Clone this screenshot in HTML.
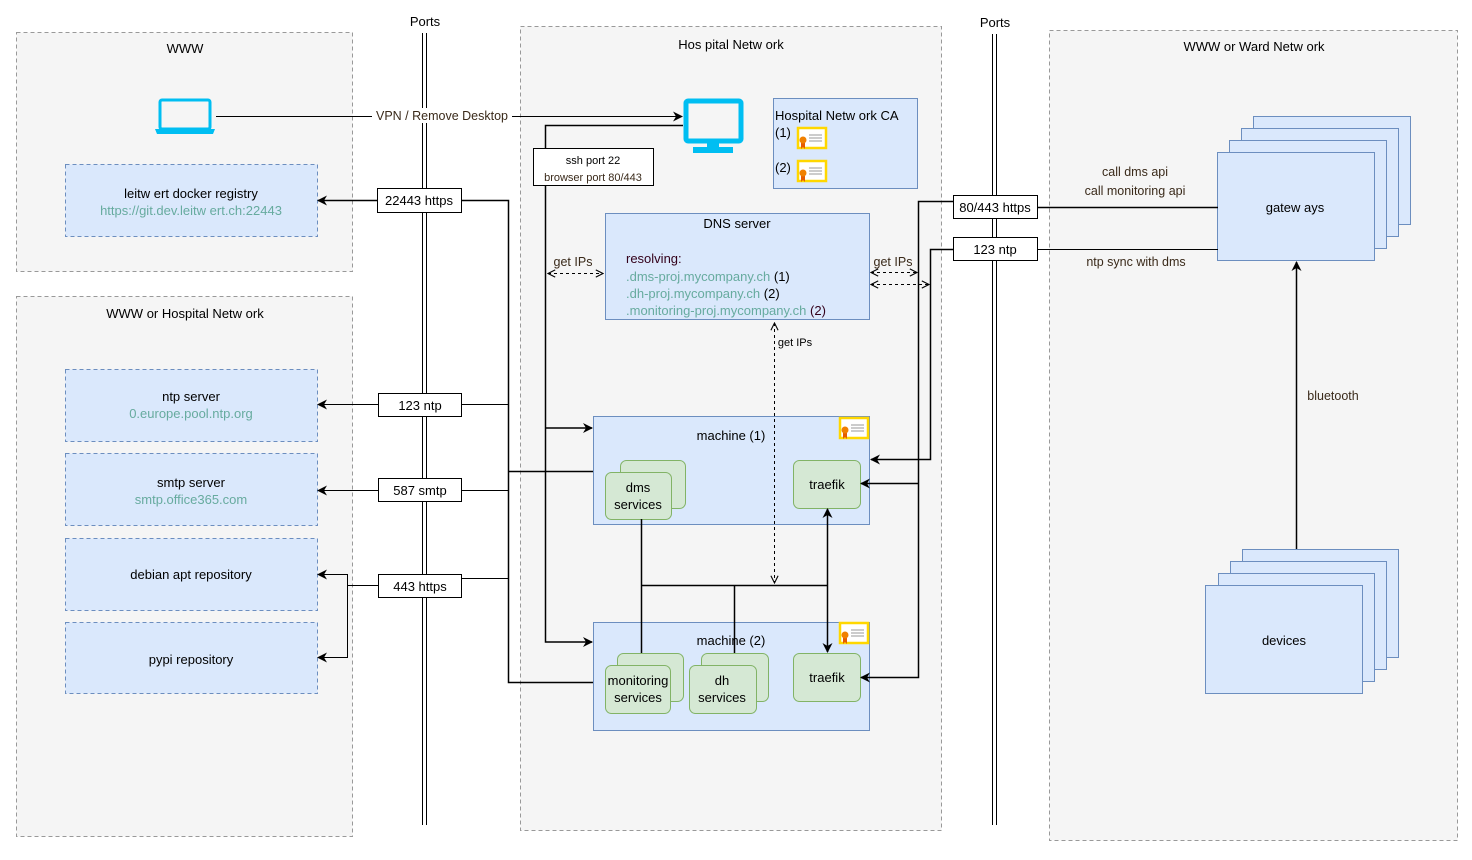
<!DOCTYPE html>
<html><head><meta charset="utf-8"><style>
html,body{margin:0;padding:0;background:#fff;}
svg{display:block;font-family:"Liberation Sans",sans-serif;}
</style></head><body>
<svg width="1472" height="860" viewBox="0 0 1472 860" xmlns="http://www.w3.org/2000/svg">
<defs>
<marker id="a" viewBox="0 0 10 10" refX="9" refY="5" markerWidth="10" markerHeight="10" markerUnits="userSpaceOnUse" orient="auto-start-reverse"><path d="M0,0 L10,5 L0,10 L3,5 Z" fill="#000"/></marker>
<marker id="o" viewBox="0 0 10 10" refX="9" refY="5" markerWidth="9" markerHeight="9" markerUnits="userSpaceOnUse" orient="auto-start-reverse"><path d="M1,1 L9,5 L1,9" fill="none" stroke="#000" stroke-width="1.2"/></marker>
<g id="cert"><rect x="1" y="1" width="28" height="20" fill="#fff" stroke="#FFD700" stroke-width="2.5"/><line x1="12" y1="8" x2="25" y2="8" stroke="#999"/><line x1="12" y1="11" x2="25" y2="11" stroke="#999"/><line x1="12" y1="14" x2="25" y2="14" stroke="#999"/><path d="M4,14 L4,22 L6,20 L8,22 L8,14Z" fill="#e65c00"/><circle cx="6" cy="13" r="3.5" fill="#f08000"/></g>
</defs>
<g fill="#f5f5f5" stroke="#999" stroke-dasharray="4 3">
<rect x="16.5" y="32.5" width="336" height="239"/>
<rect x="16.5" y="296.5" width="336" height="540"/>
<rect x="520.5" y="26.5" width="421" height="804"/>
<rect x="1049.5" y="30.5" width="408" height="810"/>
</g>
<g font-size="13" text-anchor="middle" fill="#000">
<text x="185" y="53">WWW</text>
<text x="185" y="318">WWW or Hospital Netw ork</text>
<text x="731" y="49">Hos pital Netw ork</text>
<text x="1254" y="51">WWW or Ward Netw ork</text>
<text x="425" y="26">Ports</text>
<text x="995" y="27">Ports</text>
</g>
<g stroke="#000" stroke-width="1">
<line x1="422.5" y1="33" x2="422.5" y2="825"/><line x1="426.5" y1="33" x2="426.5" y2="825"/>
<line x1="992.5" y1="34" x2="992.5" y2="825"/><line x1="996.5" y1="34" x2="996.5" y2="825"/>
</g>
<g fill="#dae8fc" stroke="#6c8ebf" stroke-dasharray="4 3">
<rect x="65.5" y="164.5" width="252" height="72"/>
<rect x="65.5" y="369.5" width="252" height="72"/>
<rect x="65.5" y="453.5" width="252" height="72"/>
<rect x="65.5" y="538.5" width="252" height="72"/>
<rect x="65.5" y="622.5" width="252" height="71"/>
</g>
<g font-size="13" text-anchor="middle">
<text x="191" y="198">leitw ert docker registry</text>
<text x="191" y="215" fill="#67AB9F">https://git.dev.leitw ert.ch:22443</text>
<text x="191" y="401">ntp server</text>
<text x="191" y="418" fill="#67AB9F">0.europe.pool.ntp.org</text>
<text x="191" y="487">smtp server</text>
<text x="191" y="504" fill="#67AB9F">smtp.office365.com</text>
<text x="191" y="579">debian apt repository</text>
<text x="191" y="664">pypi repository</text>
</g>
<!-- laptop -->
<rect x="160" y="100" width="50" height="29" rx="2" fill="none" stroke="#00BEF2" stroke-width="3"/>
<path d="M155,129 L215,129 L213,134 L157,134 Z" fill="#00BEF2"/>
<!-- monitor -->
<rect x="686" y="101" width="55" height="40" rx="2" fill="none" stroke="#00BEF2" stroke-width="5"/>
<rect x="707" y="141" width="12" height="6" fill="#00BEF2"/><rect x="693" y="147" width="40" height="6" fill="#00BEF2"/>
<!-- CA -->
<rect x="773.5" y="98.5" width="144" height="90" fill="#dae8fc" stroke="#6c8ebf"/>
<text x="775" y="120" font-size="13">Hospital Netw ork CA</text>
<text x="775" y="137" font-size="13">(1)</text>
<text x="775" y="172" font-size="13">(2)</text>
<use href="#cert" x="797" y="127"/>
<use href="#cert" x="797" y="160"/>
<!-- DNS -->
<rect x="605.5" y="213.5" width="264" height="106" fill="#dae8fc" stroke="#6c8ebf"/>
<g font-size="13">
<text x="737" y="228" text-anchor="middle">DNS server</text>
<text x="626" y="263" fill="#33001a">resolving:</text>
<text x="626" y="281"><tspan fill="#67AB9F">.dms-proj.mycompany.ch</tspan> (1)</text>
<text x="626" y="298"><tspan fill="#67AB9F">.dh-proj.mycompany.ch</tspan> (2)</text>
<text x="626" y="315"><tspan fill="#67AB9F">.monitoring-proj.mycompany.ch</tspan> <tspan fill="#33001a">(2)</tspan></text>
</g>
<!-- machines -->
<rect x="593.5" y="416.5" width="276" height="108" fill="#dae8fc" stroke="#6c8ebf"/>
<rect x="593.5" y="622.5" width="276" height="108" fill="#dae8fc" stroke="#6c8ebf"/>
<use href="#cert" x="839" y="417"/>
<use href="#cert" x="839" y="622"/>
<g fill="#d5e8d4" stroke="#82b366">
<rect x="620.5" y="460.5" width="65" height="48" rx="6"/>
<rect x="605.5" y="472.5" width="66" height="47" rx="6"/>
<rect x="793.5" y="460.5" width="67" height="48" rx="6"/>
<rect x="617.5" y="653.5" width="66" height="48" rx="6"/>
<rect x="605.5" y="665.5" width="65" height="48" rx="6"/>
<rect x="701.5" y="653.5" width="67" height="48" rx="6"/>
<rect x="689.5" y="665.5" width="67" height="48" rx="6"/>
<rect x="793.5" y="653.5" width="67" height="48" rx="6"/>
</g>
<!-- gateways / devices -->
<g fill="#dae8fc" stroke="#6c8ebf">
<rect x="1253.5" y="116.5" width="157" height="108"/>
<rect x="1241.5" y="128.5" width="157" height="108"/>
<rect x="1229.5" y="140.5" width="157" height="108"/>
<rect x="1217.5" y="152.5" width="157" height="108"/>
<rect x="1242.5" y="549.5" width="156" height="108"/>
<rect x="1230.5" y="561.5" width="156" height="108"/>
<rect x="1218.5" y="573.5" width="156" height="108"/>
<rect x="1205.5" y="585.5" width="157" height="108"/>
</g>
<g stroke="#000" fill="none" stroke-width="1">
<line x1="216" y1="116.5" x2="682" y2="116.5" marker-end="url(#a)"/>
<polyline points="683,125.5 545.5,125.5 545.5,642 592,642" stroke-width="1.5" marker-end="url(#a)"/>
<line x1="545.5" y1="428" x2="592" y2="428" stroke-width="1.5" marker-end="url(#a)"/>
<line x1="377" y1="200.5" x2="318" y2="200.5" stroke-width="1.5" marker-end="url(#a)"/>
<line x1="378" y1="404.5" x2="318" y2="404.5" marker-end="url(#a)"/>
<line x1="378" y1="490.5" x2="318" y2="490.5" marker-end="url(#a)"/>
<polyline points="378,585.5 347.5,585.5 347.5,574.5 318,574.5" marker-end="url(#a)"/>
<polyline points="347.5,585.5 347.5,657.5 318,657.5" marker-end="url(#a)"/>
<polyline points="461,200.5 508.5,200.5 508.5,682.5 593,682.5" stroke-width="1.5"/>
<line x1="461" y1="404.5" x2="508" y2="404.5"/>
<line x1="461" y1="490.5" x2="508" y2="490.5"/>
<line x1="461" y1="578.5" x2="508" y2="578.5"/>
<line x1="508" y1="471.5" x2="593" y2="471.5" stroke-width="1.5"/>
<polyline points="953,201.5 918.5,201.5 918.5,677.5 861,677.5" stroke-width="1.5" marker-end="url(#a)"/>
<line x1="918.5" y1="483.5" x2="861" y2="483.5" stroke-width="1.5" marker-end="url(#a)"/>
<polyline points="953,249.5 930.5,249.5 930.5,459.5 871,459.5" stroke-width="1.5" marker-end="url(#a)"/>
<line x1="1037" y1="207.5" x2="1218" y2="207.5" stroke-width="1.5"/>
<line x1="1037" y1="249.5" x2="1218" y2="249.5"/>
<line x1="1296.5" y1="549" x2="1296.5" y2="262" stroke-width="1.5" marker-end="url(#a)"/>
<line x1="548" y1="273.5" x2="603" y2="273.5" stroke-dasharray="3 3" marker-start="url(#o)" marker-end="url(#o)"/>
<line x1="871" y1="272.5" x2="917" y2="272.5" stroke-dasharray="3 3" marker-start="url(#o)" marker-end="url(#o)"/>
<line x1="871" y1="284.5" x2="929" y2="284.5" stroke-dasharray="3 3" marker-start="url(#o)" marker-end="url(#o)"/>
<line x1="774.5" y1="323" x2="774.5" y2="583" stroke-dasharray="3 3" marker-start="url(#o)" marker-end="url(#o)"/>
</g>
<g stroke="#000" stroke-width="1.5" fill="none">
<line x1="641.5" y1="519" x2="641.5" y2="653"/>
<line x1="641" y1="585.5" x2="827" y2="585.5"/>
<line x1="734.5" y1="585" x2="734.5" y2="653"/>
<line x1="827.5" y1="509" x2="827.5" y2="652" marker-start="url(#a)" marker-end="url(#a)"/>
</g>
<g fill="#fff" stroke="#000">
<rect x="377.5" y="188.5" width="84" height="24"/>
<rect x="378.5" y="393.5" width="83" height="23"/>
<rect x="378.5" y="478.5" width="83" height="23"/>
<rect x="378.5" y="574.5" width="83" height="23"/>
<rect x="953.5" y="195.5" width="84" height="23"/>
<rect x="953.5" y="237.5" width="84" height="23"/>
<rect x="533.5" y="148.5" width="120" height="37"/>
</g>
<rect x="372" y="108" width="140" height="15" fill="#fff"/>
<g font-size="13" text-anchor="middle">
<text x="419" y="205">22443 https</text>
<text x="420" y="410">123 ntp</text>
<text x="420" y="495">587 smtp</text>
<text x="420" y="591">443 https</text>
<text x="995" y="212">80/443 https</text>
<text x="995" y="254">123 ntp</text>
<text x="442" y="120" font-size="12.5" fill="#3a2a1a">VPN / Remove Desktop</text>
<text x="593" y="164" font-size="11">ssh port 22</text>
<text x="593" y="181" font-size="11" fill="#3a2a1a">browser port 80/443</text>
<text x="573" y="266" font-size="12.5" fill="#3a2a1a">get IPs</text>
<text x="893" y="266" font-size="12.5" fill="#3a2a1a">get IPs</text>
<text x="795" y="346" font-size="11">get IPs</text>
<text x="1135" y="176" font-size="12.5" fill="#3a2a1a">call dms api</text>
<text x="1135" y="195" font-size="12.5" fill="#3a2a1a">call monitoring api</text>
<text x="1136" y="266" font-size="12.5" fill="#3a2a1a">ntp sync with dms</text>
<text x="1333" y="400" font-size="12.5" fill="#3a2a1a">bluetooth</text>
<text x="731" y="440">machine (1)</text>
<text x="731" y="645">machine (2)</text>
<text x="638" y="492">dms</text><text x="638" y="509">services</text>
<text x="827" y="489">traefik</text>
<text x="638" y="685">monitoring</text><text x="638" y="702">services</text>
<text x="722" y="685">dh</text><text x="722" y="702">services</text>
<text x="827" y="682">traefik</text>
<text x="1295" y="212">gatew ays</text>
<text x="1284" y="645">devices</text>
</g>
</svg>
</body></html>
